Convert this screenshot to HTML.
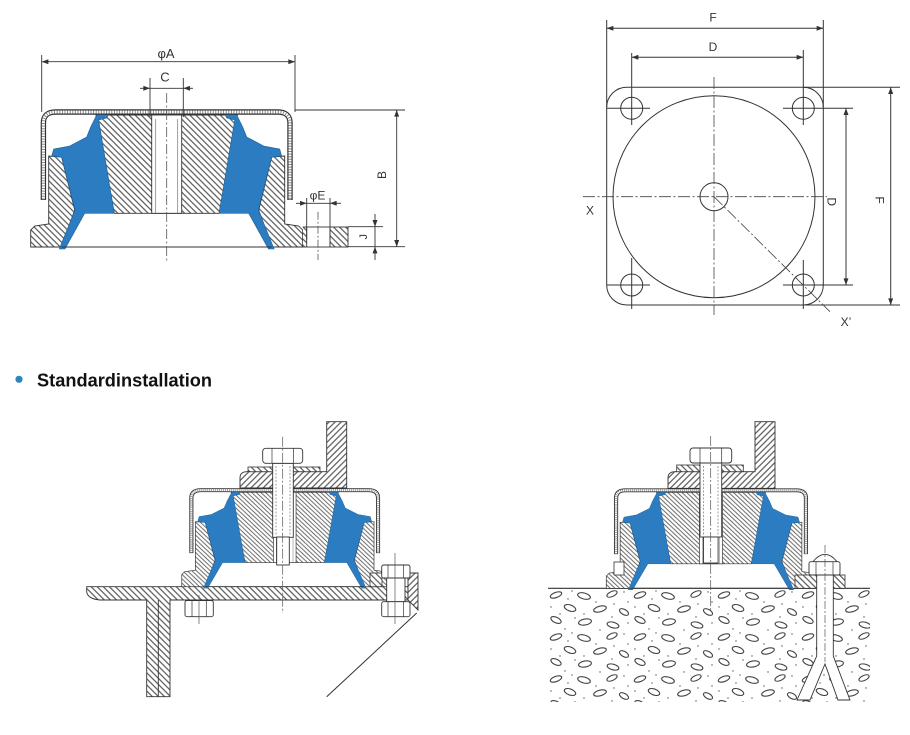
<!DOCTYPE html>
<html>
<head>
<meta charset="utf-8">
<style>
html,body{margin:0;padding:0;background:#fff;}
svg{display:block;}
text{font-family:"Liberation Sans",Arial,sans-serif;fill:#333;}
</style>
</head>
<body>
<svg width="910" height="735" viewBox="0 0 910 735" xmlns="http://www.w3.org/2000/svg">
<defs>
  <pattern id="hb" patternUnits="userSpaceOnUse" width="4.3" height="4.3" patternTransform="rotate(-45)">
    <rect width="4.3" height="4.3" fill="#fff"/>
    <line x1="2.15" y1="0" x2="2.15" y2="4.3" stroke="#4a4a4a" stroke-width="1.1"/>
  </pattern>
  <pattern id="hf" patternUnits="userSpaceOnUse" width="4.3" height="4.3" patternTransform="rotate(45)">
    <rect width="4.3" height="4.3" fill="#fff"/>
    <line x1="2.15" y1="0" x2="2.15" y2="4.3" stroke="#4a4a4a" stroke-width="1.1"/>
  </pattern>
  <pattern id="conc" patternUnits="userSpaceOnUse" x="548" y="590" width="84" height="42">
    <rect width="84" height="42" fill="#fff"/>
    <g fill="none" stroke="#444" stroke-width="1.1">
      <ellipse cx="8" cy="5" rx="6" ry="2.6" transform="rotate(-20 8 5)"/>
      <ellipse cx="36" cy="6" rx="6.5" ry="3" transform="rotate(15 36 6)"/>
      <ellipse cx="64" cy="4" rx="5.5" ry="2.5" transform="rotate(-25 64 4)"/>
      <ellipse cx="22" cy="18" rx="6" ry="3" transform="rotate(20 22 18)"/>
      <ellipse cx="52" cy="19" rx="6.5" ry="2.8" transform="rotate(-15 52 19)"/>
      <ellipse cx="76" cy="22" rx="5" ry="2.6" transform="rotate(30 76 22)"/>
      <ellipse cx="8" cy="30" rx="5.5" ry="2.8" transform="rotate(25 8 30)"/>
      <ellipse cx="37" cy="32" rx="6.5" ry="3" transform="rotate(-10 37 32)"/>
      <ellipse cx="65" cy="35" rx="6" ry="2.8" transform="rotate(15 65 35)"/>
    </g>
    <g fill="#555">
      <circle cx="20" cy="9" r="0.7"/><circle cx="48" cy="12" r="0.7"/><circle cx="80" cy="12" r="0.7"/>
      <circle cx="3" cy="17" r="0.7"/><circle cx="36" cy="24" r="0.7"/><circle cx="17" cy="39" r="0.7"/>
      <circle cx="52" cy="40" r="0.7"/><circle cx="24" cy="1" r="0.7"/><circle cx="76" cy="2" r="0.7"/>
      <circle cx="12" cy="24" r="0.7"/><circle cx="64" cy="27" r="0.7"/><circle cx="66" cy="14" r="0.7"/>
      <circle cx="80" cy="33" r="0.7"/><circle cx="27" cy="28" r="0.7"/>
    </g>
  </pattern>
  <marker id="a" viewBox="0 0 8 6" refX="8" refY="3" markerWidth="7" markerHeight="5" markerUnits="userSpaceOnUse" orient="auto-start-reverse">
    <path d="M0,0 L8,3 L0,6 z" fill="#333"/>
  </marker>

  <g id="mount">
    <polygon points="-118,-91 -105,-90 -92,-37 -105,0 -136,0 -136,-17 -132,-21 -118,-23" fill="url(#hb)" stroke="#333" stroke-width="0.9"/>
    <polygon points="118,-91 105,-90 92,-37 105,0 136,0 136,-17 132,-21 118,-23" fill="url(#hb)" stroke="#333" stroke-width="0.9"/>
    <polygon points="-70.7,-132 70.7,-132 52.4,-33.7 -52.4,-33.7" fill="url(#hb)" stroke="#333" stroke-width="0.9"/>
    <rect x="-15" y="-132" width="30" height="98.3" fill="#fff" stroke="#333" stroke-width="0.9"/>
    <line x1="-11" y1="-128" x2="-11" y2="-34" stroke="#777" stroke-width="0.7"/>
    <line x1="11" y1="-128" x2="11" y2="-34" stroke="#777" stroke-width="0.7"/>
    <path d="M -76,-120 L -69,-134 L -58,-133 L -60,-129 L -68,-127 L -52.4,-33.7 L -82,-33.7 L -101.7,2 L -107.4,2 L -91.7,-37 L -105,-89.7 L -115,-91 L -113,-98 L -97,-101 L -80,-110 Z" fill="#2b7cc0" stroke="#1e5f96" stroke-width="0.6"/>
    <path d="M 76,-120 L 69,-134 L 58,-133 L 60,-129 L 68,-127 L 52.4,-33.7 L 82,-33.7 L 101.7,2 L 107.4,2 L 91.7,-37 L 105,-89.7 L 115,-91 L 113,-98 L 97,-101 L 80,-110 Z" fill="#2b7cc0" stroke="#1e5f96" stroke-width="0.6"/>
    <line x1="-105" y1="0" x2="105" y2="0" stroke="#333" stroke-width="1"/>
    <path d="M -123.3,-47 V -124 Q -123.3,-135 -111,-135 H 111 Q 123.3,-135 123.3,-124 V -47" fill="none" stroke="#333" stroke-width="5.4"/>
    <path d="M -123.3,-47.6 V -124 Q -123.3,-135 -111,-135 H 111 Q 123.3,-135 123.3,-124 V -47.6" fill="none" stroke="#fff" stroke-width="3"/>
    <path d="M -123.3,-47.6 V -124 Q -123.3,-135 -111,-135 H 111 Q 123.3,-135 123.3,-124 V -47.6" fill="none" stroke="#888" stroke-width="3" stroke-dasharray="1 1.6"/>
  </g>
</defs>

<!-- ============ TOP LEFT SECTION ============ -->
<use href="#mount" transform="translate(166.7,247)"/>
<rect x="303" y="227" width="4" height="20" fill="url(#hb)" stroke="none"/>
<rect x="306.7" y="227" width="23.3" height="20" fill="#fff" stroke="#333" stroke-width="0.9"/>
<rect x="330" y="227" width="18" height="20" fill="url(#hb)" stroke="#333" stroke-width="0.9"/>
<line x1="302.7" y1="227" x2="306.7" y2="227" stroke="#333" stroke-width="0.9"/>
<line x1="302.7" y1="247" x2="306.7" y2="247" stroke="#333" stroke-width="0.9"/>
<line x1="318" y1="211.7" x2="318" y2="260" stroke="#555" stroke-width="0.8" stroke-dasharray="8 2 2 2"/>
<line x1="166.7" y1="93" x2="166.7" y2="262" stroke="#555" stroke-width="0.8" stroke-dasharray="10 2.5 2 2.5"/>

<g stroke="#333" stroke-width="0.9" fill="none">
  <line x1="41.7" y1="55" x2="41.7" y2="112"/>
  <line x1="295" y1="55" x2="295" y2="112"/>
  <line x1="41.7" y1="61.7" x2="295" y2="61.7" marker-start="url(#a)" marker-end="url(#a)"/>
  <line x1="150" y1="78" x2="150" y2="117"/>
  <line x1="183.3" y1="78" x2="183.3" y2="117"/>
  <line x1="140" y1="88.3" x2="150" y2="88.3" marker-end="url(#a)"/>
  <line x1="193" y1="88.3" x2="183.3" y2="88.3" marker-end="url(#a)"/>
  <line x1="150" y1="88.3" x2="183.3" y2="88.3"/>
  <line x1="295" y1="110" x2="405" y2="110"/>
  <line x1="348" y1="246.7" x2="405" y2="246.7"/>
  <line x1="396.7" y1="110" x2="396.7" y2="246.7" marker-start="url(#a)" marker-end="url(#a)"/>
  <line x1="348" y1="226.7" x2="383" y2="226.7"/>
  <line x1="375" y1="214" x2="375" y2="226.7" marker-end="url(#a)"/>
  <line x1="375" y1="260" x2="375" y2="246.7" marker-end="url(#a)"/>
  <line x1="375" y1="226.7" x2="375" y2="246.7"/>
  <line x1="306.7" y1="198" x2="306.7" y2="240"/>
  <line x1="330" y1="198" x2="330" y2="240"/>
  <line x1="296" y1="203.3" x2="306.7" y2="203.3" marker-end="url(#a)"/>
  <line x1="341" y1="203.3" x2="330" y2="203.3" marker-end="url(#a)"/>
  <line x1="306.7" y1="203.3" x2="330" y2="203.3"/>
</g>
<text x="166" y="58" font-size="13" text-anchor="middle">φA</text>
<text x="165" y="81.5" font-size="13" text-anchor="middle">C</text>
<text transform="translate(386,175) rotate(-90)" font-size="12" text-anchor="middle">B</text>
<text x="317.5" y="199.5" font-size="12" text-anchor="middle">φE</text>
<text transform="translate(367,236.7) rotate(-90)" font-size="11" text-anchor="middle">J</text>

<!-- ============ TOP RIGHT PLAN VIEW ============ -->
<g stroke="#333" stroke-width="1" fill="none">
  <path d="M 626.7,87.3 H 803.3 A 20 20 0 0 1 823.3,107.3 V 285 A 20 20 0 0 1 803.3,305 H 626.7 A 20 20 0 0 1 606.7,285 V 107.3 A 20 20 0 0 1 626.7,87.3 Z"/>
  <circle cx="714" cy="196.7" r="101"/>
  <circle cx="714" cy="196.7" r="14"/>
  <circle cx="631.7" cy="108.3" r="11"/>
  <circle cx="803.3" cy="108.3" r="11"/>
  <circle cx="631.7" cy="285" r="11"/>
  <circle cx="803.3" cy="285" r="11"/>
  <line x1="606.7" y1="108.3" x2="650" y2="108.3"/>
  <line x1="606.7" y1="285" x2="650" y2="285"/>
  <line x1="783" y1="108.3" x2="853" y2="108.3"/>
  <line x1="783" y1="285" x2="853" y2="285"/>
  <line x1="631.7" y1="53" x2="631.7" y2="125"/>
  <line x1="631.7" y1="258" x2="631.7" y2="309"/>
  <line x1="803.3" y1="50" x2="803.3" y2="125"/>
  <line x1="803.3" y1="260" x2="803.3" y2="309"/>
  <line x1="606.7" y1="20" x2="606.7" y2="107"/>
  <line x1="823.3" y1="20" x2="823.3" y2="107"/>
  <line x1="803.3" y1="87.3" x2="900" y2="87.3"/>
  <line x1="803.3" y1="305" x2="900" y2="305"/>
  <line x1="606.7" y1="28.3" x2="823.3" y2="28.3" marker-start="url(#a)" marker-end="url(#a)"/>
  <line x1="631.7" y1="57.3" x2="803.3" y2="57.3" marker-start="url(#a)" marker-end="url(#a)"/>
  <line x1="846" y1="108.3" x2="846" y2="285" marker-start="url(#a)" marker-end="url(#a)"/>
  <line x1="890.7" y1="87.3" x2="890.7" y2="305" marker-start="url(#a)" marker-end="url(#a)"/>
</g>
<g stroke="#444" stroke-width="0.8" fill="none" stroke-dasharray="12 2.5 2 2.5">
  <line x1="583" y1="196.7" x2="827" y2="196.7"/>
  <line x1="714" y1="77" x2="714" y2="315"/>
  <line x1="714" y1="196.7" x2="830" y2="311.7"/>
</g>
<text x="713" y="21.5" font-size="12" text-anchor="middle">F</text>
<text x="713" y="51" font-size="12" text-anchor="middle">D</text>
<text transform="translate(827.4,201.7) rotate(90)" font-size="12" text-anchor="middle">D</text>
<text transform="translate(875.7,200) rotate(90)" font-size="12" text-anchor="middle">F</text>
<text x="590" y="214.5" font-size="12" text-anchor="middle">X</text>
<text x="846" y="326" font-size="12" text-anchor="middle">X’</text>

<!-- ============ TITLE ============ -->
<circle cx="19" cy="379.3" r="3.6" fill="#2b86c0"/>
<text x="37" y="386.5" font-size="18" font-weight="bold" textLength="175" lengthAdjust="spacingAndGlyphs" style="fill:#111">Standardinstallation</text>

<!-- ============ BOTTOM LEFT INSTALLATION ============ -->
<path d="M 86.7,586.7 H 408 V 600 H 170 V 696.7 H 146.7 V 600 H 100 Q 88,599 86.7,592 Z" fill="url(#hb)" stroke="#333" stroke-width="0.9"/>
<line x1="158.3" y1="600" x2="158.3" y2="696.7" stroke="#333" stroke-width="0.9"/>
<polygon points="408,573 418,573 418,610 408,600" fill="url(#hf)" stroke="#333" stroke-width="0.9"/>
<rect x="185" y="600.5" width="28.3" height="16.2" rx="2" fill="#fff" stroke="#333" stroke-width="0.9"/>
<line x1="192" y1="600.5" x2="192" y2="616.7" stroke="#333" stroke-width="0.7"/>
<line x1="206.3" y1="600.5" x2="206.3" y2="616.7" stroke="#333" stroke-width="0.7"/>
<line x1="199" y1="595" x2="199" y2="624" stroke="#555" stroke-width="0.7"/>
<use href="#mount" transform="translate(284.7,586.7) scale(0.757,0.715)"/>
<rect x="370" y="573" width="12" height="13.7" fill="url(#hb)" stroke="#333" stroke-width="0.8"/>
<rect x="386.7" y="578" width="18.3" height="23.7" fill="#fff" stroke="#333" stroke-width="0.9"/>
<rect x="381.7" y="565" width="28.3" height="13" rx="2" fill="#fff" stroke="#333" stroke-width="0.9"/>
<line x1="388" y1="565" x2="388" y2="578" stroke="#333" stroke-width="0.7"/>
<line x1="403.5" y1="565" x2="403.5" y2="578" stroke="#333" stroke-width="0.7"/>
<rect x="381.7" y="601.7" width="28.3" height="15" rx="2" fill="#fff" stroke="#333" stroke-width="0.9"/>
<line x1="388" y1="601.7" x2="388" y2="616.7" stroke="#333" stroke-width="0.7"/>
<line x1="403.5" y1="601.7" x2="403.5" y2="616.7" stroke="#333" stroke-width="0.7"/>
<line x1="395" y1="553" x2="395" y2="624" stroke="#555" stroke-width="0.7"/>
<line x1="416.7" y1="613" x2="326.7" y2="696.7" stroke="#333" stroke-width="1"/>
<path d="M 240,488 V 478 Q 240,471.7 247,471.7 H 326.7 V 421.7 H 346.7 V 488 Z" fill="url(#hf)" stroke="#333" stroke-width="0.9"/>
<rect x="248" y="467" width="72" height="4.7" fill="url(#hb)" stroke="#333" stroke-width="0.8"/>
<rect x="272.7" y="463.3" width="20.6" height="74" fill="#fff" stroke="#333" stroke-width="0.9"/>
<rect x="276.7" y="537" width="12.6" height="28" fill="#fff" stroke="#333" stroke-width="0.9"/>
<line x1="276" y1="466" x2="276" y2="535" stroke="#777" stroke-width="0.7" stroke-dasharray="2 1.5"/>
<line x1="290" y1="466" x2="290" y2="535" stroke="#777" stroke-width="0.7" stroke-dasharray="2 1.5"/>
<rect x="262.7" y="448.3" width="40" height="15" rx="3" fill="#fff" stroke="#333" stroke-width="0.9"/>
<line x1="272" y1="448.3" x2="272" y2="463.3" stroke="#333" stroke-width="0.7"/>
<line x1="293.4" y1="448.3" x2="293.4" y2="463.3" stroke="#333" stroke-width="0.7"/>
<line x1="282.7" y1="436.7" x2="282.7" y2="613" stroke="#555" stroke-width="0.7" stroke-dasharray="10 2 2 2"/>

<!-- ============ BOTTOM RIGHT INSTALLATION ============ -->
<rect x="548" y="590" width="322" height="112" fill="url(#conc)"/>
<line x1="548" y1="588.3" x2="870" y2="588.3" stroke="#333" stroke-width="1.2"/>
<use href="#mount" transform="translate(711,588.3) scale(0.77,0.726)"/>
<rect x="614" y="562" width="10" height="13" fill="#fff" stroke="#333" stroke-width="0.8"/>
<rect x="795" y="575" width="50" height="13.3" fill="url(#hb)" stroke="#333" stroke-width="0.8"/>
<polygon points="816.7,575 833.3,575 833.3,656 850,700 838,700 825,664 810,700 797,700 816.7,656" fill="#fff" stroke="#333" stroke-width="0.9"/>
<path d="M 813,561.7 Q 825,547 837,561.7" fill="#fff" stroke="#333" stroke-width="0.9"/>
<rect x="809" y="561.7" width="31" height="13.3" rx="2" fill="#fff" stroke="#333" stroke-width="0.9"/>
<line x1="816" y1="561.7" x2="816" y2="575" stroke="#333" stroke-width="0.7"/>
<line x1="833" y1="561.7" x2="833" y2="575" stroke="#333" stroke-width="0.7"/>
<line x1="825" y1="545" x2="825" y2="662" stroke="#555" stroke-width="0.7" stroke-dasharray="8 2 2 2"/>
<path d="M 668,488.3 V 478 Q 668,471.7 675,471.7 H 755 V 421.7 H 775 V 488.3 Z" fill="url(#hf)" stroke="#333" stroke-width="0.9"/>
<rect x="676.7" y="465" width="66.6" height="6.7" fill="url(#hb)" stroke="#333" stroke-width="0.8"/>
<rect x="700" y="463" width="21.7" height="74" fill="#fff" stroke="#333" stroke-width="0.9"/>
<rect x="703.5" y="537" width="14.6" height="26" fill="#fff" stroke="#333" stroke-width="0.9"/>
<line x1="703.5" y1="466" x2="703.5" y2="535" stroke="#777" stroke-width="0.7" stroke-dasharray="2 1.5"/>
<line x1="718" y1="466" x2="718" y2="535" stroke="#777" stroke-width="0.7" stroke-dasharray="2 1.5"/>
<rect x="690" y="448" width="41.7" height="15" rx="3" fill="#fff" stroke="#333" stroke-width="0.9"/>
<line x1="700" y1="448" x2="700" y2="463" stroke="#333" stroke-width="0.7"/>
<line x1="721.7" y1="448" x2="721.7" y2="463" stroke="#333" stroke-width="0.7"/>
<line x1="710.7" y1="436" x2="710.7" y2="612" stroke="#555" stroke-width="0.7" stroke-dasharray="10 2 2 2"/>
</svg>
</body>
</html>
